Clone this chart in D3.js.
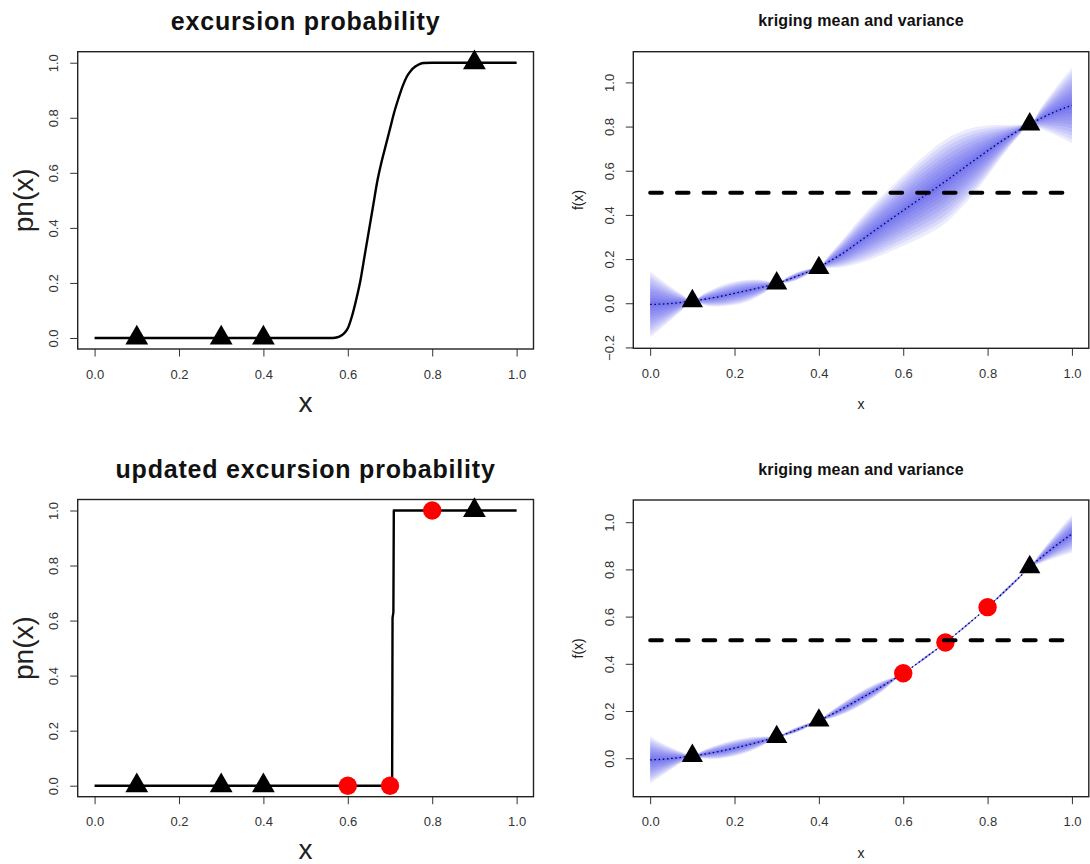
<!DOCTYPE html>
<html><head><meta charset="utf-8">
<script src="https://cdn.jsdelivr.net/npm/d3@7"></script>
<style>
body{margin:0;background:#fff}
text{font-family:"Liberation Sans",Arial,sans-serif}
</style>
</head><body>
<svg id="chart" width="1090" height="864"></svg>
<script>
// Observations of f and the threshold T
const obsX  = [0.1, 0.3, 0.4, 0.9];
const obsF  = [0.01, 0.09, 0.16, 0.81];
const obsPn = [0, 0, 0, 1];
const newX  = [0.6, 0.7, 0.8];
const newF  = [0.36, 0.49, 0.64];
const newPn = [0, 0, 1];
const threshold = 0.5;

// Excursion probability pn(x) before the new evaluations
const pnX   = [0, 0.55, 0.56, 0.57, 0.58, 0.59, 0.60, 0.61, 0.62, 0.63, 0.64, 0.65, 0.66, 0.67, 0.68, 0.69, 0.70, 0.71, 0.72, 0.73, 0.74, 0.75, 0.76, 0.77, 0.78, 0.80, 1.0];
const pnVal = [0, 0, 0, 0.001, 0.005, 0.015, 0.035, 0.08, 0.14, 0.21, 0.30, 0.39, 0.48, 0.57, 0.64, 0.70, 0.76, 0.82, 0.87, 0.915, 0.95, 0.972, 0.986, 0.995, 0.999, 1, 1];

// Updated excursion probability
const pnUpdX   = [0, 0.705, 0.706, 0.708, 0.709, 1.0];
const pnUpdVal = [0, 0, 0.61, 0.63, 1, 1];

// Kriging mean and spread of the uncertainty fan on a common grid
const gridX = [0, 0.025, 0.05, 0.075, 0.1, 0.125, 0.15, 0.2, 0.25, 0.275, 0.3, 0.325, 0.35, 0.375, 0.4, 0.425, 0.45, 0.5, 0.55, 0.6, 0.65, 0.7, 0.75, 0.8, 0.825, 0.85, 0.875, 0.9, 0.925, 0.95, 0.975, 1.0];
const meanBefore   = [-0.005, -0.004, -0.001, 0.004, 0.01, 0.017, 0.025, 0.045, 0.066, 0.077, 0.09, 0.106, 0.124, 0.143, 0.163, 0.19, 0.218, 0.285, 0.353, 0.42, 0.486, 0.552, 0.622, 0.69, 0.724, 0.755, 0.784, 0.81, 0.836, 0.859, 0.879, 0.896];
const spreadBefore = [0.15, 0.112, 0.074, 0.037, 0, 0.024, 0.04, 0.053, 0.042, 0.025, 0, 0.013, 0.018, 0.012, 0, 0.03, 0.056, 0.102, 0.135, 0.16, 0.182, 0.19, 0.165, 0.115, 0.083, 0.052, 0.024, 0, 0.045, 0.088, 0.13, 0.172];
const meanAfter    = [-0.007, -0.005, -0.001, 0.004, 0.01, 0.016, 0.024, 0.043, 0.065, 0.077, 0.09, 0.105, 0.122, 0.141, 0.16, 0.181, 0.204, 0.254, 0.305, 0.36, 0.423, 0.49, 0.563, 0.64, 0.681, 0.723, 0.766, 0.81, 0.848, 0.884, 0.918, 0.95];
const spreadAfter  = [0.1, 0.072, 0.046, 0.022, 0, 0.017, 0.027, 0.034, 0.026, 0.015, 0, 0.008, 0.011, 0.008, 0, 0.014, 0.023, 0.03, 0.022, 0, 0.007, 0, 0.006, 0, 0.006, 0.008, 0.006, 0, 0.022, 0.042, 0.061, 0.08];

// Nested fan levels (fraction of the full spread)
const fanLevels = [1, 0.9, 0.8, 0.7, 0.6, 0.5, 0.4, 0.3, 0.2, 0.1];

const xTicks  = [0, 0.2, 0.4, 0.6, 0.8, 1.0];
const pnTicks = [0, 0.2, 0.4, 0.6, 0.8, 1.0];
const fTicksBefore = [-0.2, 0, 0.2, 0.4, 0.6, 0.8, 1.0];
const fTicksAfter  = [0, 0.2, 0.4, 0.6, 0.8, 1.0];

const svg = d3.select("#chart");
const fmt = d3.format(".1f");

function frame(p, yDomain, yTicks, bigLabels, title, xlab, ylab) {
  const g = svg.append("g");
  const x = d3.scaleLinear().domain([-0.04, 1.04]).range([p.left, p.right]);
  const y = d3.scaleLinear().domain(yDomain).range([p.bottom, p.top]);

  const ax = g.append("g").attr("transform", `translate(0,${p.bottom})`)
    .call(d3.axisBottom(x).tickValues(xTicks).tickFormat(fmt).tickSize(7.5).tickSizeOuter(0).tickPadding(12.9));
  ax.select(".domain").remove();
  ax.selectAll("line").attr("stroke", "#333");
  ax.selectAll("text").attr("font-size", 13).attr("fill", "#333")
    .attr("font-family", "Liberation Sans, Arial, sans-serif");

  const ay = g.append("g").attr("transform", `translate(${p.left},0)`)
    .call(d3.axisLeft(y).tickValues(yTicks).tickFormat(fmt).tickSize(7.5).tickSizeOuter(0));
  ay.select(".domain").remove();
  ay.selectAll("line").attr("stroke", "#333");
  ay.selectAll("text").attr("font-size", 13).attr("fill", "#333")
    .attr("font-family", "Liberation Sans, Arial, sans-serif")
    .attr("text-anchor", "middle").attr("transform", "rotate(-90)")
    .attr("x", 0).attr("y", -24).attr("dy", "0.36em");

  g.append("rect").attr("x", p.left).attr("y", p.top)
    .attr("width", p.right - p.left).attr("height", p.bottom - p.top)
    .attr("fill", "none").attr("stroke", "#222").attr("stroke-width", 1.4);

  const cx = (p.left + p.right) / 2;
  g.append("text").attr("x", cx).attr("y", p.top - (bigLabels ? 21.7 : 25.3))
    .attr("text-anchor", "middle").attr("font-weight", "bold")
    .attr("font-size", bigLabels ? 25 : 16)
    .attr("letter-spacing", bigLabels ? 0.8 : 0.15)
    .attr("fill", "#111").text(title);

  g.append("text").attr("x", cx).attr("y", p.bottom + (bigLabels ? 62.5 : 61))
    .attr("text-anchor", "middle").attr("font-size", bigLabels ? 28 : 14)
    .attr("fill", "#222").text(xlab);

  g.append("text").attr("transform", `translate(${p.left - 55},${(p.top + p.bottom) / 2}) rotate(-90)`)
    .attr("text-anchor", "middle").attr("dy", "0.35em")
    .attr("font-size", bigLabels ? 28 : 14).attr("fill", "#222").text(ylab);

  return {g, x, y};
}

function triangles(layer, x, y, xs, ys, area) {
  layer.selectAll(null).data(xs.map((v, i) => [v, ys[i]])).join("path")
    .attr("d", d3.symbol().type(d3.symbolTriangle).size(area))
    .attr("transform", d => `translate(${x(d[0])},${y(d[1])})`)
    .attr("fill", "#000");
}
function dots(layer, x, y, xs, ys) {
  layer.selectAll(null).data(xs.map((v, i) => [v, ys[i]])).join("circle")
    .attr("cx", d => x(d[0])).attr("cy", d => y(d[1])).attr("r", 9.2)
    .attr("fill", "#f00");
}

function probPanel(p, title, xs, vals, curve, withNew) {
  const {g, x, y} = frame(p, [-0.04, 1.04], pnTicks, true, title, "x", "pn(x)");
  const line = d3.line().x(d => x(d[0])).y(d => y(d[1])).curve(curve);
  g.append("path").datum(xs.map((v, i) => [v, vals[i]]))
    .attr("d", line).attr("fill", "none").attr("stroke", "#000").attr("stroke-width", 2.4)
    .attr("stroke-linejoin", "round");
  triangles(g, x, y, obsX, obsPn, 225);
  if (withNew) dots(g, x, y, newX, newPn);
}

function krigPanel(p, yDomain, yTicks, mean, spread, withNew) {
  const {g, x, y} = frame(p, yDomain, yTicks, false, "kriging mean and variance", "x", "f(x)");
  const pts = gridX.map((v, i) => ({x: v, m: mean[i], s: spread[i]}));
  const clipId = "clip" + Math.round(p.top);
  g.append("clipPath").attr("id", clipId).append("rect")
    .attr("x", p.left).attr("y", p.top).attr("width", p.right - p.left).attr("height", p.bottom - p.top);
  const fan = g.append("g").attr("clip-path", `url(#${clipId})`);
  fanLevels.forEach(k => {
    const area = d3.area().x(d => x(d.x))
      .y0(d => y(d.m - k * d.s)).y1(d => y(d.m + k * d.s))
      .curve(d3.curveMonotoneX);
    fan.append("path").datum(pts).attr("d", area)
      .attr("fill", "rgb(40,40,230)").attr("fill-opacity", 0.085);
  });
  const mline = d3.line().x(d => x(d.x)).y(d => y(d.m)).curve(d3.curveMonotoneX);
  g.append("path").datum(pts).attr("d", mline).attr("fill", "none")
    .attr("stroke", "#000070").attr("stroke-width", 1.3).attr("stroke-dasharray", "1.6 2.6");
  triangles(g, x, y, obsX, obsF, 195);
  if (withNew) dots(g, x, y, newX, newF);
  g.append("line").attr("x1", x(0)).attr("x2", x(1))
    .attr("y1", y(threshold)).attr("y2", y(threshold))
    .attr("stroke", "#000").attr("stroke-width", 4)
    .attr("stroke-linecap", "round").attr("stroke-dasharray", "11.7 15");
}

probPanel({left: 77.7, right: 533.5, top: 51.7, bottom: 349}, "excursion probability",
  pnX, pnVal, d3.curveMonotoneX, false);
krigPanel({left: 633.3, right: 1088.8, top: 51.7, bottom: 348.3}, [-0.204, 1.139], fTicksBefore,
  meanBefore, spreadBefore, false);
probPanel({left: 77.7, right: 533.5, top: 499.5, bottom: 796.7}, "updated excursion probability",
  pnUpdX, pnUpdVal, d3.curveLinear, true);
krigPanel({left: 633.3, right: 1088.8, top: 500, bottom: 796.7}, [-0.163, 1.094], fTicksAfter,
  meanAfter, spreadAfter, true);
</script>
</body></html>
